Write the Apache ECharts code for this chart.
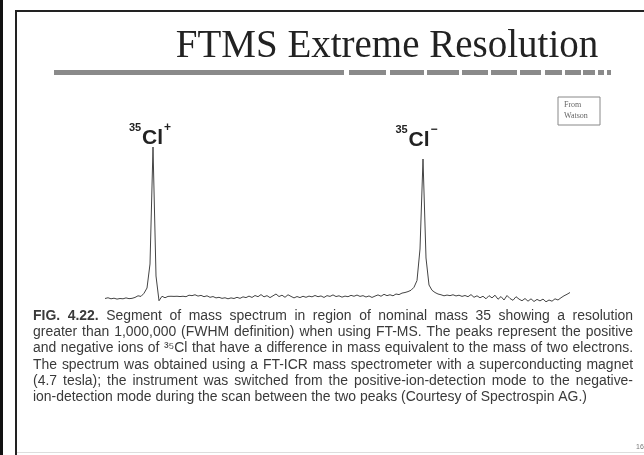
<!DOCTYPE html>
<html><head><meta charset="utf-8">
<script src="https://cdn.jsdelivr.net/npm/echarts@6/dist/echarts.min.js"></script>
<style>html,body{margin:0;padding:0;background:#fff}#c{width:644px;height:455px}</style>
</head><body><div id="c"></div>
<script>
// ---------- data ----------
const titleText = 'FTMS Extreme Resolution';
const sourceNote = ['From', 'Watson'];
const pageNumber = '16';
// relative intensity of the spectrum trace, sampled left to right (uniform sampling)
const intensity = [
 -1.0,-0.5,-1.2,-0.8,-1.4,-1.0,-1.2,-0.6,-1.1,-0.9,-0.3,0.8,0.4,
 2.5,6,22,100,14,-2.5,0.5,-0.5,
 0.4,0.5,0.4,0.5,0.3,0.5,
 0.2,1.2,0.9,1.5,0.6,1.1,0.2,0.8,-0.2,0.3,-0.6,-0.2,-0.9,-0.5,-1.2,-0.6,-1.0,-0.2,
 -0.9,0.1,-0.4,0.6,-0.3,1.0,0.2,1.6,0.1,0.9,-0.4,0.8,2.0,0.3,1.2,-0.2,1.5,0.4,-0.6,0.3,
 -0.4,0.5,-0.2,0.6,0.1,1.0,0.2,0.7,-0.3,0.9,0.4,1.4,0.3,0.8,-0.1,0.6,0.2,1.1,0.5,1.3,
 0.4,0.9,0.0,0.7,-0.3,0.6,1.4,0.5,1.8,0.9,1.5,0.8,2.0,1.6,2.6,3.0,3.6,4.5,6.5,11,
 32,92,26,8,4.5,3.0,2.0,1.5,0.8,1.3,0.9,1.5,0.7,1.2,0.4,1.0,0.2,1.6,-0.2,0.8,
 -0.5,0.5,-1.2,0.9,-0.6,1.2,-1.5,0.3,-2.0,1.0,-1.0,-2.2,0.2,-1.4,-2.5,-1.0,-2.8,-1.2,-3.0,-1.6,
 -2.6,-1.4,-3.2,-2.0,-2.8,-1.2,-2.0,-0.5,0.8,1.8,3.0
];
const sampleIndex = intensity.map((_, i) => String(i));
const peakLabels = [
  { iso: '35', el: 'Cl', charge: '+', at: 16 },
  { iso: '35', el: 'Cl', charge: '\u2212', at: 106 }
];
const captionLines = [
  'FIG. 4.22. Segment of mass spectrum in region of nominal mass 35 showing a resolution',
  'greater than 1,000,000 (FWHM definition) when using FT-MS. The peaks represent the positive',
  'and negative ions of \u00B3\u2075Cl that have a difference in mass equivalent to the mass of two electrons.',
  'The spectrum was obtained using a FT-ICR mass spectrometer with a superconducting magnet',
  '(4.7 tesla); the instrument was switched from the positive-ion-detection mode to the negative-',
  'ion-detection mode during the scan between the two peaks (Courtesy of Spectrospin AG.)'
];

// ---------- layout ----------
const chart = echarts.init(document.getElementById('c'), null, { renderer: 'canvas' });
const SANS = '"Liberation Sans", Arial, sans-serif';
const SERIF = '"Liberation Serif", "Times New Roman", serif';

const barSegs = [[54,344],[349,386],[390,424],[427,459],[462,488],[491,517],[520,541],[545,562],[565,581],[583,595],[598,604],[607,611]];

function frameGraphics() {
  const g = [];
  g.push({ type: 'rect', shape: { x: 0, y: 0, width: 3, height: 455 }, style: { fill: '#111' }, silent: true });
  g.push({ type: 'rect', shape: { x: 15, y: 10, width: 2, height: 445 }, style: { fill: '#222' }, silent: true });
  g.push({ type: 'rect', shape: { x: 15, y: 10, width: 629, height: 2 }, style: { fill: '#222' }, silent: true });
  g.push({ type: 'rect', shape: { x: 17, y: 452, width: 627, height: 1 }, style: { fill: '#ddd' }, silent: true });
  barSegs.forEach(s => g.push({ type: 'rect', shape: { x: s[0], y: 70, width: s[1] - s[0], height: 5 }, style: { fill: '#8a8a8a' }, silent: true }));
  g.push({ type: 'text', x: 387, y: 47, style: { text: titleText, font: '39px ' + SERIF, fill: '#222', align: 'center', verticalAlign: 'middle' }, silent: true });
  // source box
  g.push({ type: 'rect', shape: { x: 558, y: 97, width: 42, height: 28 }, style: { fill: '#fff', stroke: '#888', lineWidth: 1 }, silent: true });
  g.push({ type: 'text', x: 564, y: 105, style: { text: sourceNote[0], font: '8px ' + SERIF, fill: '#666', align: 'left', verticalAlign: 'middle' }, silent: true });
  g.push({ type: 'text', x: 564, y: 116, style: { text: sourceNote[1], font: '8px ' + SERIF, fill: '#666', align: 'left', verticalAlign: 'middle' }, silent: true });
  g.push({ type: 'text', x: 636, y: 447, style: { text: pageNumber, font: '7px ' + SANS, fill: '#777', align: 'left', verticalAlign: 'middle' }, silent: true });
  return g;
}

function captionGraphics() {
  const g = [];
  const cv = document.createElement('canvas').getContext('2d');
  const left = 33, width = 600, top = 316, lh = 16.3;
  let fs = 13;
  const fontOf = (bold, size) => (bold ? 'bold ' : '') + size + 'px ' + SANS;
  function natWidth(line, li, size) {
    const words = line.split(' ');
    let w = 0;
    words.forEach((wd, k) => { cv.font = fontOf(li === 0 && k < 2, size); w += cv.measureText(wd).width; });
    cv.font = fontOf(false, size);
    return w + cv.measureText(' ').width * (words.length - 1);
  }
  const maxW = Math.max(...captionLines.map((l, i) => natWidth(l, i, fs)));
  fs = +(fs * (width * 0.985) / maxW).toFixed(2);
  captionLines.forEach((line, li) => {
    const words = line.split(' ');
    const ws = words.map((wd, k) => { cv.font = fontOf(li === 0 && k < 2, fs); return cv.measureText(wd).width; });
    const tot = ws.reduce((a, b) => a + b, 0);
    cv.font = fontOf(false, fs);
    const justify = li < captionLines.length - 1;
    const gap = justify ? (width - tot) / (words.length - 1) : cv.measureText(' ').width;
    let x = left;
    words.forEach((wd, k) => {
      g.push({ type: 'text', x: x, y: top + li * lh, style: { text: wd, font: fontOf(li === 0 && k < 2, fs), fill: '#3a3a3a', align: 'left', verticalAlign: 'middle' }, silent: true });
      x += ws[k] + gap;
    });
  });
  return g;
}

const option = {
  backgroundColor: '#ffffff',
  animation: false,
  grid: { left: 105, right: 74, top: 147, bottom: 150.5 },
  xAxis: { type: 'category', data: sampleIndex, boundaryGap: false, show: false },
  yAxis: { type: 'value', min: -5, max: 100, show: false },
  series: [{
    type: 'line', data: intensity, symbol: 'none', silent: true,
    lineStyle: { color: '#444', width: 1 }
  }],
  graphic: frameGraphics().concat(captionGraphics())
};
chart.setOption(option);

// peak labels anchored to the peak data points
const labelOffsets = [{ dx: -0.5, dy: -9 }, { dx: -4, dy: -19 }];
const lab = [];
peakLabels.forEach((p, i) => {
  const pt = chart.convertToPixel({ seriesIndex: 0 }, [p.at, intensity[p.at]]);
  const cx = pt[0] + labelOffsets[i].dx, cy = pt[1] + labelOffsets[i].dy;
  lab.push({ type: 'text', x: cx, y: cy, style: { text: p.el, font: 'bold 21px ' + SANS, fill: '#222', align: 'center', verticalAlign: 'middle' }, silent: true });
  lab.push({ type: 'text', x: cx - 17.5, y: cy - 10, style: { text: p.iso, font: 'bold 11px ' + SANS, fill: '#222', align: 'center', verticalAlign: 'middle' }, silent: true });
  lab.push({ type: 'text', x: cx + 15, y: cy - 10, style: { text: p.charge, font: 'bold 12px ' + SANS, fill: '#222', align: 'center', verticalAlign: 'middle' }, silent: true });
});
chart.setOption({ graphic: option.graphic.concat(lab) });
</script>
</body></html>
